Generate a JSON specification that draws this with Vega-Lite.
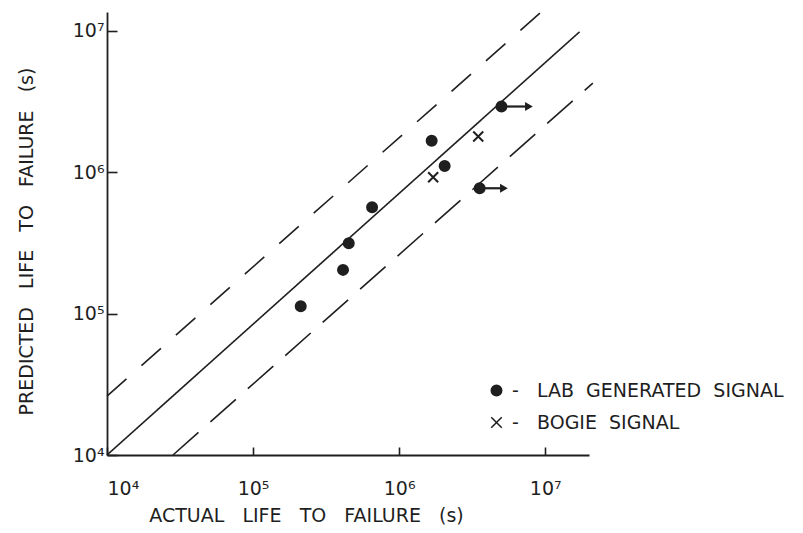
{
  "$schema": "https://vega.github.io/schema/vega-lite/v6.json",
  "width": 482,
  "height": 443,
  "autosize": {"type": "none"},
  "padding": {"left": 107, "top": 12, "right": 214, "bottom": 78},
  "background": "white",
  "config": {
    "view": {"stroke": null},
    "font": "DejaVu Sans",
    "axis": {"grid": false, "domainColor": "#1f1f1f", "domainWidth": 1.8, "tickColor": "#1f1f1f", "tickWidth": 1.6, "labelColor": "#1f1f1f", "titleColor": "#1f1f1f", "labelFont": "DejaVu Sans", "titleFont": "DejaVu Sans", "titleFontWeight": "normal"}
  },
  "datasets": {
    "refLines": [
      {"x": 10000, "y": 10000, "line": "solid"},
      {"x": 17200000, "y": 9860000, "line": "solid"},
      {"x": 10000, "y": 26100, "line": "upper"},
      {"x": 9220000, "y": 13400000, "line": "upper"},
      {"x": 28300, "y": 10000, "line": "lower"},
      {"x": 21200000, "y": 4280000, "line": "lower"}
    ],
    "points": [
      {"actual": 212000, "predicted": 113000, "series": "LAB GENERATED SIGNAL"},
      {"actual": 413000, "predicted": 204000, "series": "LAB GENERATED SIGNAL"},
      {"actual": 452000, "predicted": 315000, "series": "LAB GENERATED SIGNAL"},
      {"actual": 653000, "predicted": 566000, "series": "LAB GENERATED SIGNAL"},
      {"actual": 1670000, "predicted": 1670000, "series": "LAB GENERATED SIGNAL"},
      {"actual": 2050000, "predicted": 1110000, "series": "LAB GENERATED SIGNAL"},
      {"actual": 3560000, "predicted": 771000, "series": "LAB GENERATED SIGNAL"},
      {"actual": 5020000, "predicted": 2920000, "series": "LAB GENERATED SIGNAL"},
      {"actual": 1710000, "predicted": 923000, "series": "BOGIE SIGNAL"},
      {"actual": 3480000, "predicted": 1790000, "series": "BOGIE SIGNAL"}
    ],
    "arrows": [
      {"actual": 5020000, "actual_end": 7740000, "predicted": 2920000},
      {"actual": 3560000, "actual_end": 5220000, "predicted": 771000}
    ]
  },
  "layer": [
    {
      "data": {"name": "refLines"},
      "mark": {"type": "line", "color": "#1f1f1f", "strokeWidth": 1.6, "clip": false},
      "encoding": {
        "x": {
          "field": "x", "type": "quantitative",
          "scale": {"type": "log", "domain": [10000, 19952623], "nice": false},
          "axis": {
            "values": [10000, 100000, 1000000, 10000000],
            "labelExpr": "datum.value == 10000 ? '10⁴' : datum.value == 100000 ? '10⁵' : datum.value == 1000000 ? '10⁶' : '10⁷'",
            "labelFontSize": 19,
            "tickSize": -8,
            "labelPadding": 47,
            "labelBaseline": "alphabetic",
            "title": "ACTUAL\u00a0\u00a0 LIFE\u00a0\u00a0 TO\u00a0\u00a0 FAILURE\u00a0\u00a0 (s)",
            "titleFontSize": 19,
            "titleX": 199,
            "titleY": 66,
            "titleAlign": "center",
            "titleBaseline": "alphabetic"
          }
        },
        "y": {
          "field": "y", "type": "quantitative",
          "scale": {"type": "log", "domain": [10000, 13614446], "nice": false},
          "axis": {
            "values": [10000, 100000, 1000000, 10000000],
            "labelExpr": "datum.value == 10000 ? '10⁴' : datum.value == 100000 ? '10⁵' : datum.value == 1000000 ? '10⁶' : '10⁷'",
            "labelFontSize": 19,
            "tickSize": -10,
            "labelPadding": 13,
            "title": "PREDICTED\u00a0\u00a0 LIFE\u00a0\u00a0 TO\u00a0\u00a0 FAILURE\u00a0\u00a0 (s)",
            "titleFontSize": 19,
            "titleAngle": -90,
            "titleX": -81,
            "titleY": 229,
            "titleAlign": "center",
            "titleBaseline": "middle"
          }
        },
        "strokeDash": {
          "field": "line", "type": "nominal",
          "scale": {"domain": ["solid", "upper", "lower"], "range": [[1, 0], [26, 20], [34, 16]]},
          "legend": null
        }
      }
    },
    {
      "data": {"name": "arrows"},
      "mark": {"type": "rule", "color": "#1f1f1f", "strokeWidth": 2.2},
      "encoding": {
        "x": {"field": "actual", "type": "quantitative"},
        "x2": {"field": "actual_end"},
        "y": {"field": "predicted", "type": "quantitative"}
      }
    },
    {
      "data": {"name": "arrows"},
      "mark": {"type": "point", "shape": "triangle-right", "filled": true, "color": "#1f1f1f", "size": 80, "opacity": 1},
      "encoding": {
        "x": {"field": "actual_end", "type": "quantitative"},
        "y": {"field": "predicted", "type": "quantitative"}
      }
    },
    {
      "data": {"name": "points"},
      "mark": {"type": "point", "stroke": "#1f1f1f", "strokeWidth": 2, "size": 100, "opacity": 1},
      "encoding": {
        "x": {"field": "actual", "type": "quantitative"},
        "y": {"field": "predicted", "type": "quantitative"},
        "shape": {
          "field": "series", "type": "nominal",
          "scale": {"domain": ["LAB GENERATED SIGNAL", "BOGIE SIGNAL"], "range": ["circle", "M-1,-1L1,1M-1,1L1,-1"]},
          "legend": {
            "title": null,
            "orient": "none",
            "legendX": 380,
            "legendY": 369,
            "padding": 0,
            "rowPadding": 12,
            "labelFontSize": 19,
            "labelColor": "#1f1f1f",
            "labelOffset": 6,
            "labelLimit": 400,
            "symbolSize": 110,
            "labelExpr": "'-\u00a0\u00a0 ' + replace(datum.label, / /g, '\u00a0 ')",
            "encode": {"symbols": {"update": {"stroke": {"value": "#1f1f1f"}, "strokeWidth": {"value": 2}, "opacity": {"value": 1}}}}
          }
        },
        "fill": {
          "field": "series", "type": "nominal",
          "scale": {"domain": ["LAB GENERATED SIGNAL", "BOGIE SIGNAL"], "range": ["#1f1f1f", "transparent"]}
        }
      }
    }
  ]
}
